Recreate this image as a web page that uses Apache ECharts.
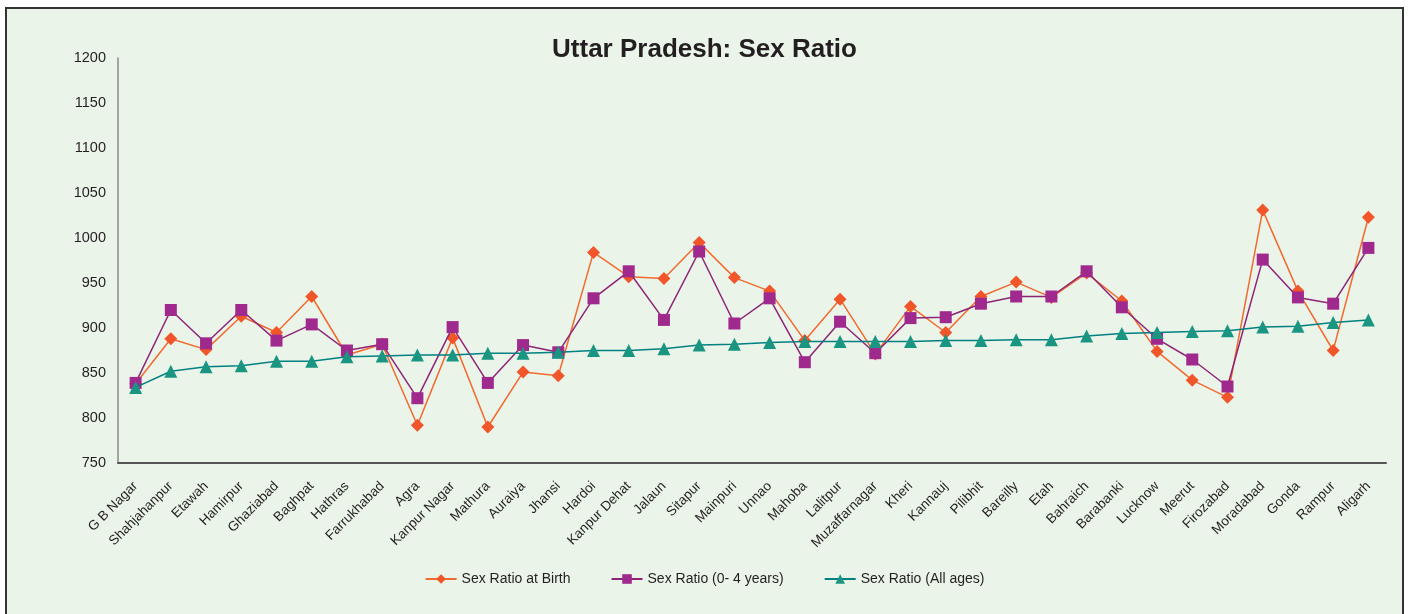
<!DOCTYPE html>
<html>
<head>
<meta charset="utf-8">
<script src="https://cdn.jsdelivr.net/npm/echarts@6/dist/echarts.min.js"></script>
<style>
html,body{margin:0;padding:0;background:#fff;}
#chart{width:1409px;height:614px;}
</style>
</head>
<body>
<div id="chart"></div>
<script>
const categories = ["G B Nagar","Shahjahanpur","Etawah","Hamirpur","Ghaziabad","Baghpat","Hathras","Farrukhabad","Agra","Kanpur Nagar","Mathura","Auraiya","Jhansi","Hardoi","Kanpur Dehat","Jalaun","Sitapur","Mainpuri","Unnao","Mahoba","Lalitpur","Muzaffarnagar","Kheri","Kannauj","Pilibhit","Bareilly","Etah","Bahraich","Barabanki","Lucknow","Meerut","Firozabad","Moradabad","Gonda","Rampur","Aligarh"];
const birthRatio = [838,888,876,913,895,935,870,882,792,889,790,851,847,984,957,955,995,956,941,886,932,871,924,895,935,951,934,961,930,874,842,823,1031,941,875,1023];
const ratio0to4 = [839,920,883,920,886,904,875,882,822,901,839,881,873,933,963,909,985,905,933,862,907,872,911,912,927,935,935,963,923,888,865,835,976,934,927,989];
const ratioAll = [834,852,857,858,863,863,868,869,870,870,872,872,873,875,875,877,881,882,884,885,885,885,885,886,886,887,887,891,894,895,896,897,901,902,906,909];
const seriesNames = ["Sex Ratio at Birth","Sex Ratio (0- 4 years)","Sex Ratio (All ages)"];
const yTicks = {min:750, max:1200, interval:50};
const titleText = "Uttar Pradesh: Sex Ratio";

const FONT = '"Liberation Sans", Arial, sans-serif';
const chart = echarts.init(document.getElementById('chart'));
chart.setOption({
  backgroundColor:'#ffffff',
  animation:false,
  graphic:[{
    type:'rect', z:-100, silent:true,
    shape:{x:6,y:8,width:1397,height:640},
    style:{fill:'#eaf4e9', stroke:'#333333', lineWidth:2}
  }],
  title:{
    text:titleText, left:'center', top:32,
    textStyle:{fontFamily:FONT, fontWeight:'bold', fontSize:26, color:'#231f20'}
  },
  legend:{
    bottom:23, left:'center', itemGap:40, itemWidth:31, itemHeight:12,
    textStyle:{fontFamily:FONT, fontSize:14, color:'#231f20'},
    data:seriesNames
  },
  grid:{left:118, right:23, top:58, bottom:151, containLabel:false},
  xAxis:{
    type:'category', data:categories, boundaryGap:true,
    axisLine:{lineStyle:{color:'#555555', width:2}},
    axisTick:{show:false},
    axisLabel:{rotate:45, interval:0, fontFamily:FONT, fontSize:13.5, color:'#231f20', margin:21}
  },
  yAxis:{
    type:'value', min:yTicks.min, max:yTicks.max, interval:yTicks.interval,
    splitLine:{show:false},
    axisLine:{show:true, lineStyle:{color:'#8a8a8a', width:1.5}},
    axisTick:{show:false},
    axisLabel:{fontFamily:FONT, fontSize:14.5, color:'#231f20', margin:12, formatter:function(v){return String(v);}}
  },
  series:[
    {name:seriesNames[0], type:'line', data:birthRatio, symbol:'diamond', symbolSize:13,
     lineStyle:{color:'#f26a2e', width:1.5}, itemStyle:{color:'#f0562a'}, z:3},
    {name:seriesNames[1], type:'line', data:ratio0to4, symbol:'rect', symbolSize:12,
     lineStyle:{color:'#8e2476', width:1.5}, itemStyle:{color:'#a0298d'}, z:4},
    {name:seriesNames[2], type:'line', data:ratioAll, symbol:'triangle', symbolSize:13,
     lineStyle:{color:'#008080', width:1.5}, itemStyle:{color:'#1a9582'}, z:5}
  ]
});
</script>
</body>
</html>
